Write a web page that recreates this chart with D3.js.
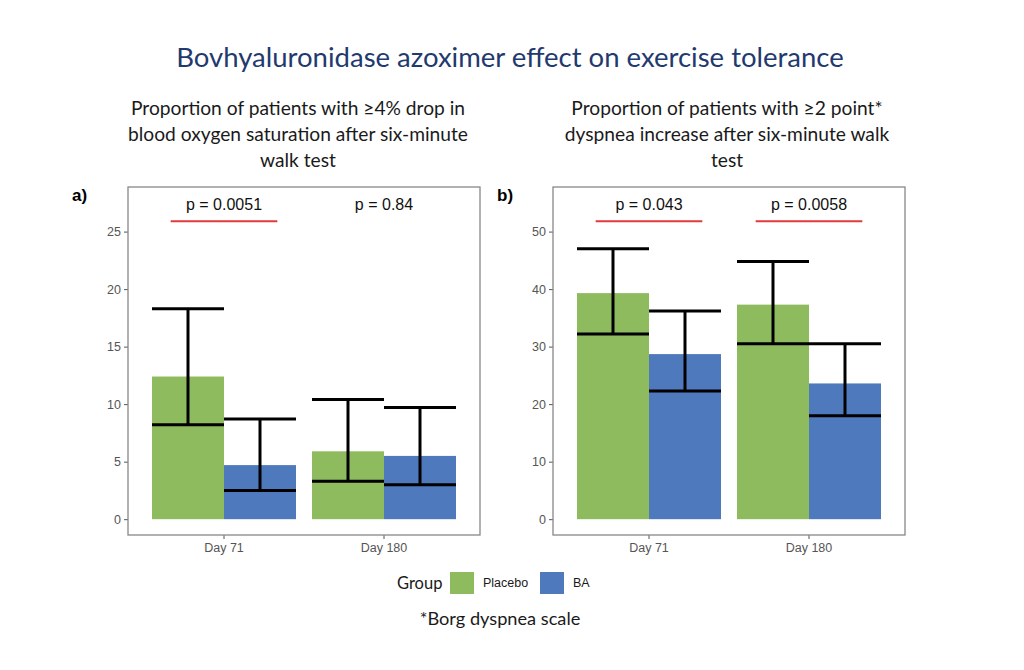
<!DOCTYPE html>
<html>
<head>
<meta charset="utf-8">
<script src="https://cdn.jsdelivr.net/npm/d3@7"></script>
<style>
  body { margin: 0; background: #fff; }
  svg { display: block; }
</style>
</head>
<body>
<svg width="1024" height="670"></svg>
<script>
// ---- data ----
const days = ["Day 71", "Day 180"];
const groups = ["Placebo", "BA"];

// a) SpO2 drop >= 4%
const spo2Placebo = [12.4, 5.9];
const spo2PlaceboLow = [8.2, 3.3];
const spo2PlaceboHigh = [18.3, 10.4];
const spo2BA = [4.7, 5.5];
const spo2BALow = [2.5, 3.0];
const spo2BAHigh = [8.7, 9.7];
const spo2Pvalues = ["p = 0.0051", "p = 0.84"];
const spo2Signif = [true, false];
const spo2Ticks = [0, 5, 10, 15, 20, 25];

// b) dyspnea increase >= 2 points
const dysPlacebo = [39.3, 37.3];
const dysPlaceboLow = [32.2, 30.5];
const dysPlaceboHigh = [47.0, 44.8];
const dysBA = [28.7, 23.6];
const dysBALow = [22.3, 18.0];
const dysBAHigh = [36.2, 30.5];
const dysPvalues = ["p = 0.043", "p = 0.0058"];
const dysSignif = [true, true];
const dysTicks = [0, 10, 20, 30, 40, 50];

const colors = {Placebo: "#8dbb5e", BA: "#4f79bd"};

const svg = d3.select("svg");

svg.append("text")
    .attr("x", 510).attr("y", 67)
    .attr("text-anchor", "middle")
    .attr("font-family", "Lato, 'Open Sans', sans-serif")
    .attr("font-size", 27.5)
    .attr("fill", "#1f3a6e")
    .text("Bovhyaluronidase azoximer effect on exercise tolerance");

function panel(opts) {
    const {left, right, top, bottom, yMax, ticks, placebo, placeboLow, placeboHigh,
           ba, baLow, baHigh, pvals, signif, bracketY, labelY, tag, title, titleX} = opts;

    const g = svg.append("g");

    // subtitle
    g.append("text")
        .attr("text-anchor", "middle")
        .attr("font-family", "Lato, 'Open Sans', sans-serif")
        .attr("font-size", 19.2)
        .attr("fill", "#1a1a1a")
        .selectAll("tspan")
        .data(title)
        .join("tspan")
        .attr("x", titleX)
        .attr("y", (d, i) => 115 + i * 26)
        .text(d => d);

    const x = d3.scaleBand()
        .domain(days)
        .range([left, right])
        .paddingInner(0)
        .paddingOuter(0.1);
    const step = x.step();
    const xg = d3.scaleBand()
        .domain(groups)
        .range([-0.45 * step, 0.45 * step]);

    const y = d3.scaleLinear()
        .domain([-yMax * 0.05, yMax * 1.05])
        .range([bottom, top]);

    const cx = d => x(d) + x.bandwidth() / 2;

    const rows = [];
    days.forEach((d, i) => {
        rows.push({day: d, group: "Placebo", v: placebo[i], lo: placeboLow[i], hi: placeboHigh[i]});
        rows.push({day: d, group: "BA", v: ba[i], lo: baLow[i], hi: baHigh[i]});
    });

    // bars
    g.selectAll("rect.bar")
        .data(rows)
        .join("rect")
        .attr("class", "bar")
        .attr("x", d => cx(d.day) + xg(d.group))
        .attr("width", xg.bandwidth())
        .attr("y", d => y(d.v))
        .attr("height", d => y(0) - y(d.v))
        .attr("fill", d => colors[d.group]);

    // error bars
    const eb = g.selectAll("g.err").data(rows).join("g").attr("class", "err")
        .attr("stroke", "#000").attr("stroke-width", 3);
    eb.append("line")
        .attr("x1", d => cx(d.day) + xg(d.group) + xg.bandwidth() / 2)
        .attr("x2", d => cx(d.day) + xg(d.group) + xg.bandwidth() / 2)
        .attr("y1", d => y(d.lo)).attr("y2", d => y(d.hi));
    eb.append("line")
        .attr("x1", d => cx(d.day) + xg(d.group))
        .attr("x2", d => cx(d.day) + xg(d.group) + xg.bandwidth())
        .attr("y1", d => y(d.lo)).attr("y2", d => y(d.lo));
    eb.append("line")
        .attr("x1", d => cx(d.day) + xg(d.group))
        .attr("x2", d => cx(d.day) + xg(d.group) + xg.bandwidth())
        .attr("y1", d => y(d.hi)).attr("y2", d => y(d.hi));

    // p-values and brackets
    g.selectAll("text.p")
        .data(days)
        .join("text")
        .attr("class", "p")
        .attr("x", d => cx(d))
        .attr("y", y(labelY))
        .attr("text-anchor", "middle")
        .attr("font-family", "'Liberation Sans', Arial, sans-serif")
        .attr("font-size", 16)
        .attr("fill", "#111")
        .text((d, i) => pvals[i]);

    g.selectAll("line.br")
        .data(days.filter((d, i) => signif[i]))
        .join("line")
        .attr("class", "br")
        .attr("x1", d => cx(d) - step / 3)
        .attr("x2", d => cx(d) + step / 3)
        .attr("y1", y(bracketY)).attr("y2", y(bracketY))
        .attr("stroke", "#e23b3b")
        .attr("stroke-width", 2);

    // axes
    const yAxis = g.append("g")
        .attr("transform", `translate(${left},0)`)
        .call(d3.axisLeft(y).tickValues(ticks).tickSize(4).tickPadding(3));
    const xAxis = g.append("g")
        .attr("transform", `translate(0,${bottom})`)
        .call(d3.axisBottom(x).tickSize(4).tickPadding(4));
    [yAxis, xAxis].forEach(a => {
        a.select(".domain").remove();
        a.selectAll(".tick line").attr("stroke", "#555");
        a.selectAll(".tick text")
            .attr("fill", "#555")
            .attr("font-size", 12.5)
            .attr("font-family", "'Liberation Sans', Arial, sans-serif");
    });

    // panel border
    g.append("rect")
        .attr("x", left).attr("y", top)
        .attr("width", right - left).attr("height", bottom - top)
        .attr("fill", "none")
        .attr("stroke", "#888")
        .attr("stroke-width", 1.3);

    // tag
    g.append("text")
        .attr("x", left - 56).attr("y", top + 14)
        .attr("font-family", "'Liberation Sans', Arial, sans-serif")
        .attr("font-weight", "bold")
        .attr("font-size", 17)
        .text(tag);
}

panel({
    left: 128, right: 480, top: 187, bottom: 535,
    yMax: 27.5, ticks: spo2Ticks,
    placebo: spo2Placebo, placeboLow: spo2PlaceboLow, placeboHigh: spo2PlaceboHigh,
    ba: spo2BA, baLow: spo2BALow, baHigh: spo2BAHigh,
    pvals: spo2Pvalues, signif: spo2Signif,
    bracketY: 25.9, labelY: 26.9, tag: "a)",
    titleX: 298,
    title: ["Proportion of patients with \u22654% drop in",
            "blood oxygen saturation after six-minute",
            "walk test"]
});

panel({
    left: 553, right: 905, top: 187, bottom: 535,
    yMax: 55, ticks: dysTicks,
    placebo: dysPlacebo, placeboLow: dysPlaceboLow, placeboHigh: dysPlaceboHigh,
    ba: dysBA, baLow: dysBALow, baHigh: dysBAHigh,
    pvals: dysPvalues, signif: dysSignif,
    bracketY: 51.8, labelY: 53.8, tag: "b)",
    titleX: 727,
    title: ["Proportion of patients with \u22652 point*",
            "dyspnea increase after six-minute walk",
            "test"]
});

// legend
const legend = svg.append("g");
legend.append("text")
    .attr("x", 397).attr("y", 589)
    .attr("font-family", "Lato, 'Open Sans', sans-serif")
    .attr("font-size", 16.5)
    .attr("fill", "#1a1a1a")
    .text("Group");
const lg = legend.selectAll("g.item")
    .data(groups)
    .join("g")
    .attr("class", "item")
    .attr("transform", (d, i) => `translate(${450 + i * 90},572)`);
lg.append("rect")
    .attr("width", 24).attr("height", 22)
    .attr("fill", d => colors[d]);
lg.append("text")
    .attr("x", 33).attr("y", 15)
    .attr("font-family", "'Liberation Sans', Arial, sans-serif")
    .attr("font-size", 12.5)
    .attr("fill", "#1a1a1a")
    .text(d => d);

svg.append("text")
    .attr("x", 500).attr("y", 625)
    .attr("text-anchor", "middle")
    .attr("font-family", "Lato, 'Open Sans', sans-serif")
    .attr("font-size", 18.2)
    .attr("fill", "#1a1a1a")
    .text("*Borg dyspnea scale");
</script>
</body>
</html>
